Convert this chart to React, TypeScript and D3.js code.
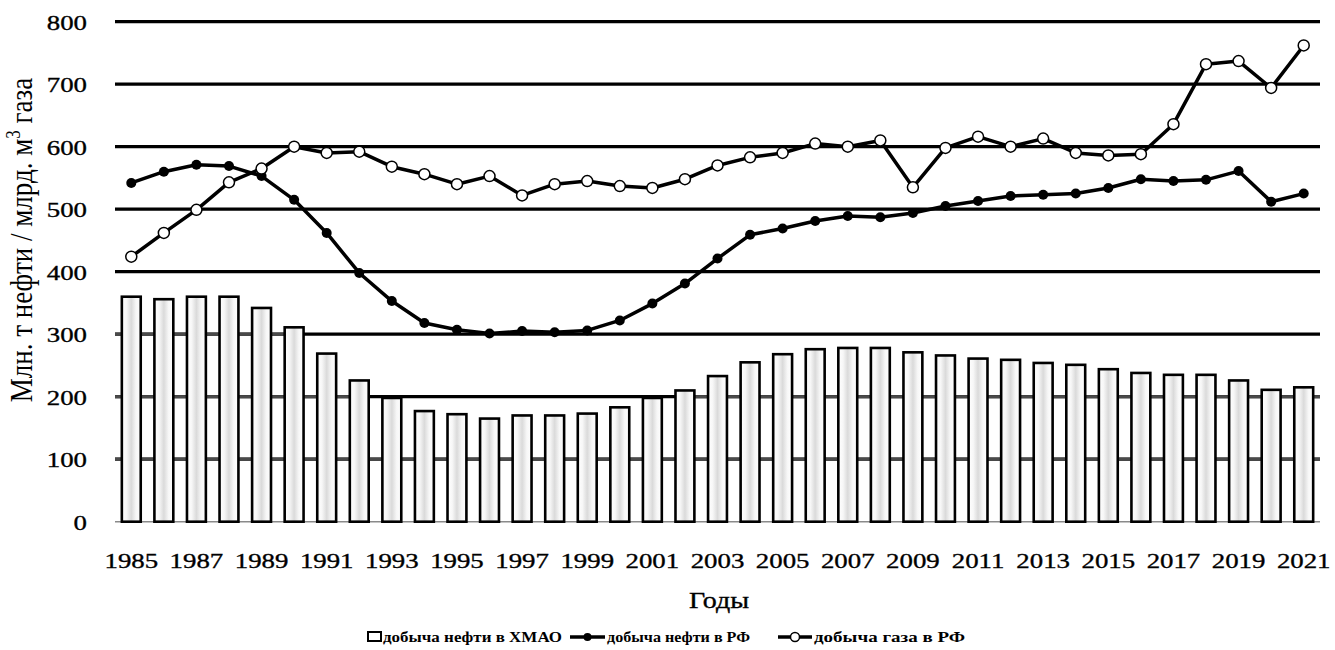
import React from "react";
import * as d3 from "d3";

const years = [1985,1986,1987,1988,1989,1990,1991,1992,1993,1994,1995,1996,1997,1998,1999,2000,2001,2002,2003,2004,2005,2006,2007,2008,2009,2010,2011,2012,2013,2014,2015,2016,2017,2018,2019,2020,2021];
const oilHMAO = [360,356,360,360,342,311,269,226,198,177,172,165,170,170,173,183,198,210,233,255,268,276,278,278,271,266,261,259,254,251,244,238,235,235,226,211,215];
const oilRF = [542,560,571,569,553,515,462,398,353,318,307,301,305,303,306,322,349,381,421,459,469,481,489,487,494,505,513,521,523,525,534,548,545,547,561,512,525];
const gasRF = [424,462,499,543,565,600,590,592,568,556,540,553,522,540,545,537,534,548,570,583,590,605,600,610,535,598,616,600,613,590,586,588,636,732,737,694,762];
const yTicks = [0,100,200,300,400,500,600,700,800];
const xTickYears = [1985,1987,1989,1991,1993,1995,1997,1999,2001,2003,2005,2007,2009,2011,2013,2015,2017,2019,2021];
const legendLabels = ["добыча нефти в ХМАО", "добыча нефти в РФ", "добыча газа в РФ"];

const W = 1335, H = 650;
const left = 115, right = 1320, top = 21.7, bottom = 521.7;
const SX = 1.22;
const FONT = "'Liberation Serif', 'Times New Roman', serif";

function T({ x, y, anchor = "start", size, children, weight = "normal", sx = SX, len }: any) {
  return (
    <text transform={`translate(${x},${y}) scale(${sx},1)`} textAnchor={anchor}
      fontSize={size} fontFamily={FONT} fontWeight={weight} fill="#000"
      stroke="#000" strokeWidth={weight === "normal" ? 0.35 : 0}
      {...(len ? { textLength: len / sx, lengthAdjust: "spacingAndGlyphs" } : {})}>{children}</text>
  );
}

export default function App() {
  const x = d3.scaleBand<number>().domain(years).range([left, right]).paddingInner(0.42).paddingOuter(0.21);
  const y = d3.scaleLinear().domain([0, 800]).range([bottom, top]);
  const bw = x.bandwidth();
  const cx = (yr: number) => (x(yr) as number) + bw / 2;

  const line = d3.line<number>().x((_, i) => cx(years[i])).y(d => y(d));

  const greySegs: { v: number; x1: number; x2: number }[] = [];
  yTicks.filter(v => v > 0).forEach(v => {
    for (let i = 0; i < years.length - 1; i++) {
      if (oilHMAO[i] > v && oilHMAO[i + 1] > v) {
        greySegs.push({ v, x1: (x(years[i]) as number) + bw, x2: x(years[i + 1]) as number });
      }
    }
    if (oilHMAO[0] > v) greySegs.push({ v, x1: left, x2: x(years[0]) as number });
    if (oilHMAO[years.length - 1] > v) greySegs.push({ v, x1: (x(years[years.length - 1]) as number) + bw, x2: right });
  });

  const legY = 642;
  const legMid = 637;

  return (
    <div style={{ position: "absolute", left: 0, top: 0 }}>
      <svg width={W} height={H} style={{ display: "block", background: "#fff" }}>
        <defs>
          <linearGradient id="barFill" x1="0" x2="1" y1="0" y2="0">
            <stop offset="0%" stopColor="#ffffff" />
            <stop offset="25%" stopColor="#f7f7f7" />
            <stop offset="50%" stopColor="#dadada" />
            <stop offset="75%" stopColor="#f7f7f7" />
            <stop offset="100%" stopColor="#ffffff" />
          </linearGradient>
        </defs>

        {yTicks.filter(v => v > 0).map(v => (
          <line key={v} x1={left} x2={right} y1={y(v)} y2={y(v)} stroke="#000" strokeWidth={3.2} />
        ))}
        {greySegs.map((s, i) => (
          <line key={"g" + i} x1={s.x1} x2={s.x2} y1={y(s.v)} y2={y(s.v)} stroke="#4a4a4a" strokeWidth={3.2} />
        ))}
        <line x1={left} x2={right} y1={y(0)} y2={y(0)} stroke="#8a8a8a" strokeWidth={1.5} />

        {years.map((yr, i) => (
          <rect key={yr} x={x(yr)} y={y(oilHMAO[i])} width={bw} height={y(0) - y(oilHMAO[i])}
            fill="url(#barFill)" stroke="#000" strokeWidth={2.6} />
        ))}

        <path d={line(oilRF) as string} fill="none" stroke="#000" strokeWidth={3.5} strokeLinejoin="round" />
        {oilRF.map((v, i) => (
          <circle key={"o" + i} cx={cx(years[i])} cy={y(v)} r={5} fill="#000" />
        ))}

        <path d={line(gasRF) as string} fill="none" stroke="#000" strokeWidth={3.5} strokeLinejoin="round" />
        {gasRF.map((v, i) => (
          <circle key={"gz" + i} cx={cx(years[i])} cy={y(v)} r={5.5} fill="#fff" stroke="#000" strokeWidth={1.5} />
        ))}

        {yTicks.map(v => (
          <T key={v} x={87} y={y(v) + 8} anchor="end" size={22}>{v}</T>
        ))}
        {xTickYears.map(yr => (
          <T key={yr} x={cx(yr)} y={568} anchor="middle" size={22}>{yr}</T>
        ))}

        <T x={719} y={608} anchor="middle" size={23}>Годы</T>
        <text transform={`translate(32,240) scale(1.2,1) rotate(-90)`} textAnchor="middle"
          fontSize={27} fontFamily={FONT} fill="#000">
          Млн. т нефти / млрд. м<tspan dy={-10} fontSize={17}>3</tspan><tspan dy={10}> газа</tspan>
        </text>

        <rect x={368} y={632} width={13} height={9} fill="#fff" stroke="#000" strokeWidth={2} />
        <T x={383} y={legY} size={15} weight="bold" len={179}>{legendLabels[0]}</T>

        <line x1={570} x2={605} y1={legMid} y2={legMid} stroke="#000" strokeWidth={3.5} />
        <circle cx={587.5} cy={legMid} r={4} fill="#000" />
        <T x={607} y={legY} size={15} weight="bold" len={143}>{legendLabels[1]}</T>

        <line x1={778} x2={812} y1={legMid} y2={legMid} stroke="#000" strokeWidth={3.5} />
        <circle cx={795} cy={legMid} r={4.5} fill="#fff" stroke="#000" strokeWidth={1.5} />
        <T x={814} y={legY} size={15} weight="bold" len={151}>{legendLabels[2]}</T>
      </svg>
    </div>
  );
}
